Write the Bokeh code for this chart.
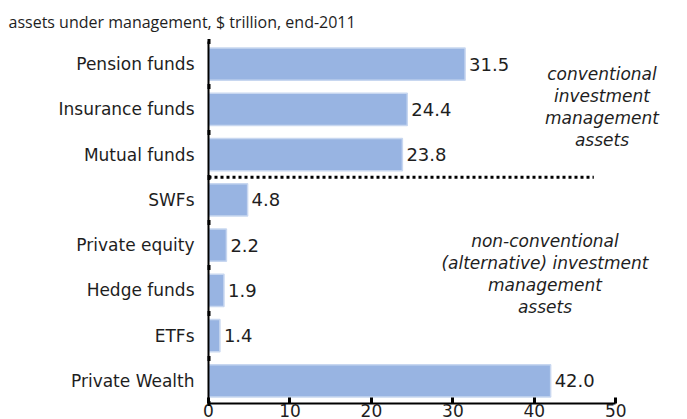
from bokeh.plotting import figure
from bokeh.models import FixedTicker, Range1d, Label
from bokeh.core.properties import value
from bokeh.embed import file_html
from bokeh.resources import INLINE

# ---- data ----
categories = ["Pension funds", "Insurance funds", "Mutual funds", "SWFs",
              "Private equity", "Hedge funds", "ETFs", "Private Wealth"]
values = [31.5, 24.4, 23.8, 4.8, 2.2, 1.9, 1.4, 42.0]
value_labels = ["31.5", "24.4", "23.8", "4.8", "2.2", "1.9", "1.4", "42.0"]
n_conventional = 3
x_ticks = [0, 10, 20, 30, 40, 50]
subtitle = "assets under management, $ trillion, end-2011"
note_conventional = "conventional\ninvestment\nmanagement\nassets"
note_alternative = "non-conventional\n(alternative) investment\nmanagement\nassets"
divider_end = 47.3

FONT = "DejaVu Sans"
TXT = "#1e1e1e"
BAR = "#98b4e2"

n = len(categories)
ypos = [n - 1 - i for i in range(n)]

p = figure(width=687, height=419, output_backend="svg", toolbar_location=None,
           x_range=Range1d(0, 58.8), y_range=Range1d(-0.5, n - 0.5),
           min_border_left=208, min_border_right=0, min_border_top=41,
           min_border_bottom=0, title=subtitle)
p.outline_line_color = None
p.xgrid.visible = False
p.ygrid.visible = False

p.title.text_font = "Open Sans"
p.title.text_font_size = "16px"
p.title.text_font_style = "normal"
p.title.text_color = TXT
p.title.align = "left"
p.title.vertical_align = "top"
p.title.offset = -200
p.title.standoff = 14

p.hbar(y=ypos, left=0, right=values, height=0.71, fill_color=BAR,
       line_color="#c8d7f0", line_width=1.5)
p.text(x=values, y=ypos, text=value_labels, x_offset=4, text_baseline="middle",
       text_align="left", text_font=value(FONT), text_font_size="18px",
       text_color=TXT)

divider_y = (n - n_conventional) - 0.5
p.line(x=[0, divider_end], y=[divider_y, divider_y], line_color="black",
       line_width=3, line_dash="3 3")

p.add_layout(Label(x=48.3, y=6.06, text=note_conventional, text_align="center",
                   text_baseline="middle", text_font=FONT, text_font_size="17px",
                   text_font_style="italic", text_color=TXT, text_line_height=1.1))
p.add_layout(Label(x=41.3, y=2.37, text=note_alternative, text_align="center",
                   text_baseline="middle", text_font=FONT, text_font_size="17px",
                   text_font_style="italic", text_color=TXT, text_line_height=1.1))

xa = p.xaxis[0]
xa.ticker = FixedTicker(ticks=x_ticks)
xa.bounds = (x_ticks[0], x_ticks[-1])
xa.axis_line_width = 2
xa.axis_line_color = "black"
xa.major_tick_in = 6
xa.major_tick_out = 0
xa.major_tick_line_width = 3
xa.minor_tick_line_color = None
xa.major_label_standoff = 0
xa.major_label_text_font = FONT
xa.major_label_text_font_size = "17px"
xa.major_label_text_color = TXT

ya = p.yaxis[0]
ya.ticker = FixedTicker(ticks=ypos, minor_ticks=[k - 0.5 for k in range(n + 1)])
ya.major_label_overrides = {y: c for y, c in zip(ypos, categories)}
ya.axis_line_width = 2
ya.axis_line_color = "black"
ya.major_tick_line_color = None
ya.minor_tick_in = 2
ya.minor_tick_out = 1
ya.minor_tick_line_width = 5
ya.minor_tick_line_color = "black"
ya.major_label_standoff = 8
ya.major_label_text_font = FONT
ya.major_label_text_font_size = "17px"
ya.major_label_text_color = TXT

open("out.html", "w").write(file_html(p, INLINE))
